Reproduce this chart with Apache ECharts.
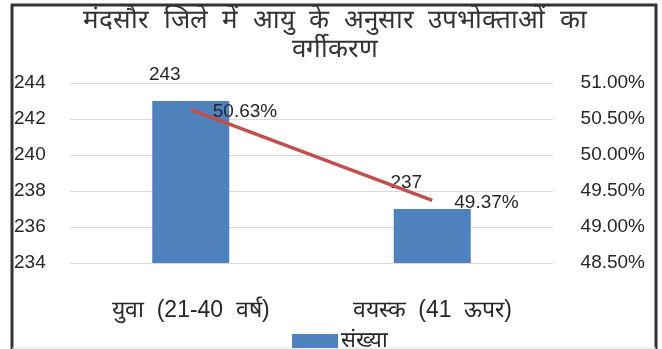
<!DOCTYPE html>
<html>
<head>
<meta charset="utf-8">
<script src="https://cdn.jsdelivr.net/npm/echarts@6/dist/echarts.min.js"></script>
<style>
  html, body { margin: 0; padding: 0; background: #fff; }
  #chart { width: 662px; height: 349px; }
</style>
</head>
<body>
<div id="chart"></div>
<script>
// Consumers in Mandsaur district by age group
const categories = ['युवा  (21-40  वर्ष)', 'वयस्क  (41  ऊपर)'];
const counts = [243, 237];            // संख्या
const shares = [50.63, 49.37];        // percent of total
const countTicks = { min: 234, max: 244, interval: 2 };
const shareTicks = { min: 48.5, max: 51, interval: 0.5 };

const FONT = '"Liberation Sans", Arial, sans-serif';
const TEXT = '#262626';

const chart = echarts.init(document.getElementById('chart'));
chart.setOption({
  animation: false,
  backgroundColor: '#fff',
  title: {
    text: 'मंदसौर  जिले  में  आयु  के  अनुसार  उपभोक्ताओं  का\nवर्गीकरण',
    left: 330,
    textAlign: 'center',
    top: 1,
    textStyle: { fontFamily: FONT, fontSize: 26, fontWeight: 'normal', color: '#333', lineHeight: 29 }
  },
  grid: { left: 70, right: 109, top: 83, bottom: 86 },
  legend: {
    left: 287, top: 325,
    itemWidth: 46, itemHeight: 14, itemGap: 4,
    data: [{ name: 'संख्या', icon: 'rect' }],
    textStyle: { fontFamily: FONT, fontSize: 22, color: TEXT, padding: [11, 0, 0, -2] }
  },
  xAxis: {
    type: 'category',
    data: categories,
    axisLine: { lineStyle: { color: '#d9d9d9' } },
    axisTick: { show: false },
    axisLabel: { fontFamily: FONT, fontSize: 23, color: TEXT, margin: 36 }
  },
  yAxis: [
    {
      type: 'value', position: 'left',
      min: countTicks.min, max: countTicks.max, interval: countTicks.interval,
      axisLine: { show: false }, axisTick: { show: false },
      splitLine: { lineStyle: { color: '#d9d9d9' } },
      axisLabel: { fontFamily: FONT, fontSize: 19, color: TEXT, align: 'left', margin: 56 }
    },
    {
      type: 'value', position: 'right',
      min: shareTicks.min, max: shareTicks.max, interval: shareTicks.interval,
      axisLine: { show: false }, axisTick: { show: false },
      splitLine: { show: false },
      axisLabel: {
        fontFamily: FONT, fontSize: 19, color: TEXT, align: 'right', margin: 92,
        formatter: v => v.toFixed(2) + '%'
      }
    }
  ],
  series: [
    {
      name: 'संख्या',
      type: 'bar',
      data: counts,
      barWidth: 77,
      itemStyle: { color: '#4f81bd' },
      label: {
        show: true, position: 'top', distance: 17, offset: [-26, 0],
        fontFamily: FONT, fontSize: 19, color: TEXT
      }
    },
    {
      name: 'प्रतिशत',
      type: 'line',
      yAxisIndex: 1,
      data: shares,
      symbol: 'circle',
      symbolSize: 2,
      showSymbol: true,
      itemStyle: { color: 'rgba(0,0,0,0)' },
      lineStyle: { color: '#c0504d', width: 3.5 },
      z: 5,
      label: {
        show: true, position: 'right', distance: 21, offset: [0, 2],
        fontFamily: FONT, fontSize: 19, color: TEXT,
        formatter: p => p.value.toFixed(2) + '%'
      }
    }
  ],
  graphic: [
    { type: 'line', shape: { x1: 12, y1: 4, x2: 12, y2: 349 }, style: { stroke: '#333', lineWidth: 3 } },
    { type: 'line', shape: { x1: 11, y1: 5, x2: 657, y2: 5 }, style: { stroke: '#333', lineWidth: 3 } },
    { type: 'line', shape: { x1: 656, y1: 4, x2: 656, y2: 349 }, style: { stroke: '#333', lineWidth: 3 } },
    { type: 'line', shape: { x1: 12, y1: 348, x2: 656, y2: 348 }, style: { stroke: '#e6e6e6', lineWidth: 1 } }
  ]
});
</script>
</body>
</html>
